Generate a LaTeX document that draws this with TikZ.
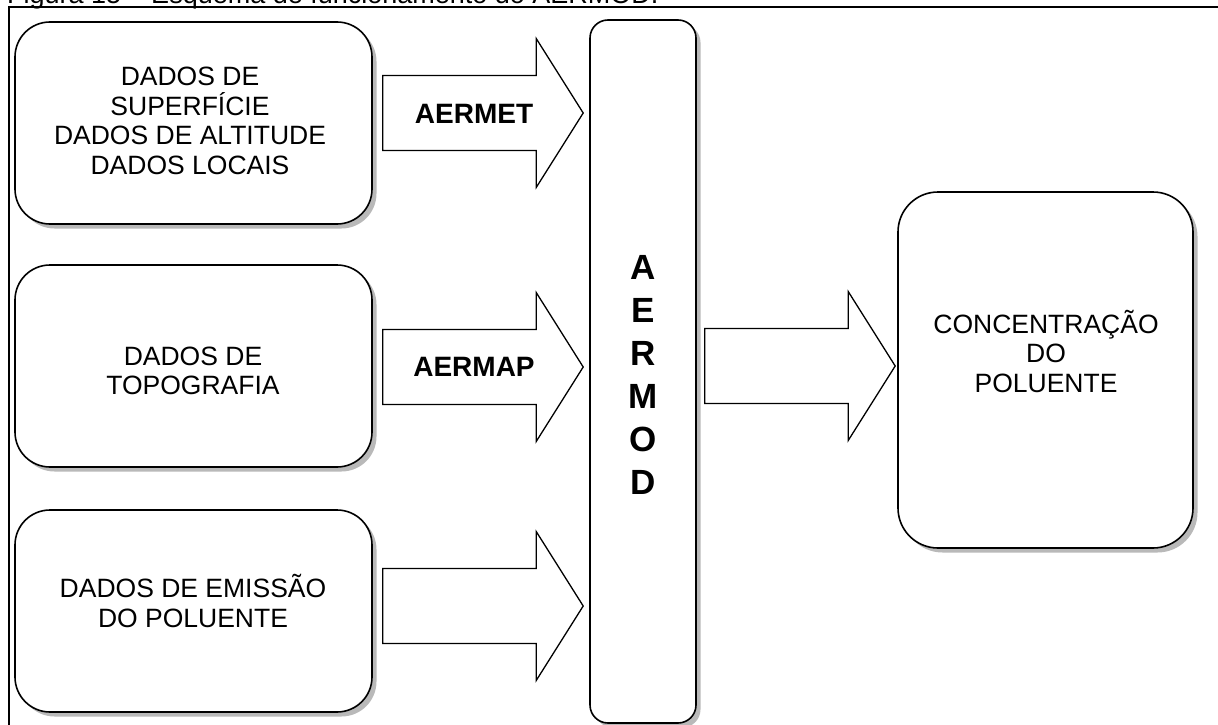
\documentclass[tikz,border=0pt]{standalone}
\usepackage{fontspec}
\setmainfont{Liberation Sans}
\usepackage{tikz}
\usetikzlibrary{shadows, calc}

% block arrow from tail (#1) to tip (#2), both on one line
\newcommand{\fatarrow}[2]{%
	\draw[fatarrow] let \p1=(#1), \p2=(#2) in
		(\x1,\y1+37.5pt) -- (\x2-47pt,\y1+37.5pt) -- (\x2-47pt,\y1+74.5pt)
		-- (\x2,\y1) -- (\x2-47pt,\y1-74.5pt) -- (\x2-47pt,\y1-37.5pt)
		-- (\x1,\y1-37.5pt) -- cycle;}

\begin{document}
\begin{tikzpicture}[x=1pt, y=-1pt,
		databox/.style={draw, line width=1.6pt, fill=white, rounded corners=35pt,
			minimum width=357pt, minimum height=202pt,
			drop shadow={shadow xshift=4.5pt, shadow yshift=-4.5pt, fill=black!55}},
		fatarrow/.style={draw, line width=1.3pt, fill=white, line join=miter},
		txt/.style={align=center, font=\fontsize{26.5}{29.5}\selectfont},
		lbl/.style={font=\bfseries\fontsize{28}{30}\selectfont}]
		\useasboundingbox (0,0) rectangle (1218,725);
		% Caption and frame
		\node[anchor=base west, inner sep=0pt, font=\fontsize{27}{30}\selectfont] (caption) at (7,4)
			{Figura 15 – Esquema de funcionamento do AERMOD.};
		\draw[line width=2.8pt] (9,740) -- (9,7) -- (1230,7);
		% Draw boxes
		\node[databox] (dsup) at (193.5,123) {};
		\node[databox] (dtopo) at (193.5,366) {};
		\node[databox] (demis) at (193.5,611) {};
		\node[databox, rounded corners=18pt, minimum width=106pt, minimum height=703pt] (aermod) at (643,371.5) {};
		\node[databox, rounded corners=40pt, minimum width=295pt, minimum height=356pt] (conc) at (1045.5,370) {};
		% Draw arrows
		\coordinate (met1) at ($(dsup.east)+(10,-10)$);
		\coordinate (met2) at ($(met1 -| aermod.west)+(-6,0)$);
		\coordinate (map1) at ($(dtopo.east)+(10,1)$);
		\coordinate (map2) at ($(map1 -| aermod.west)+(-6,0)$);
		\coordinate (emi1) at ($(demis.east)+(10,-5)$);
		\coordinate (emi2) at ($(emi1 -| aermod.west)+(-6,0)$);
		\coordinate (out1) at ($(aermod.east)+(8,-5.5)$);
		\coordinate (out2) at ($(out1 -| conc.west)+(-2,0)$);
		\fatarrow{met1}{met2}
		\fatarrow{map1}{map2}
		\fatarrow{emi1}{emi2}
		\fatarrow{out1}{out2}
		% Label arrows
		\node[lbl] (tmet) at (474,114) {AERMET};
		\node[lbl] (tmap) at (474,367) {AERMAP};
		% Label boxes
		\node[txt] (tsup) at (190,121) {DADOS DE\\SUPERFÍCIE\\DADOS DE ALTITUDE\\DADOS LOCAIS};
		\node[txt] (ttopo) at (193,371) {DADOS DE\\TOPOGRAFIA};
		\node[txt] (temis) at (193,601) {DADOS DE EMISSÃO\\DO POLUENTE};
		\node[txt] (tconc) at (1046,351) {CONCENTRAÇÃO\\DO\\POLUENTE};
		\node[align=center, font=\bfseries\fontsize{35}{43}\selectfont] (tmod) at (643,375) {A\\E\\R\\M\\O\\D};
	\end{tikzpicture}
\end{document}
